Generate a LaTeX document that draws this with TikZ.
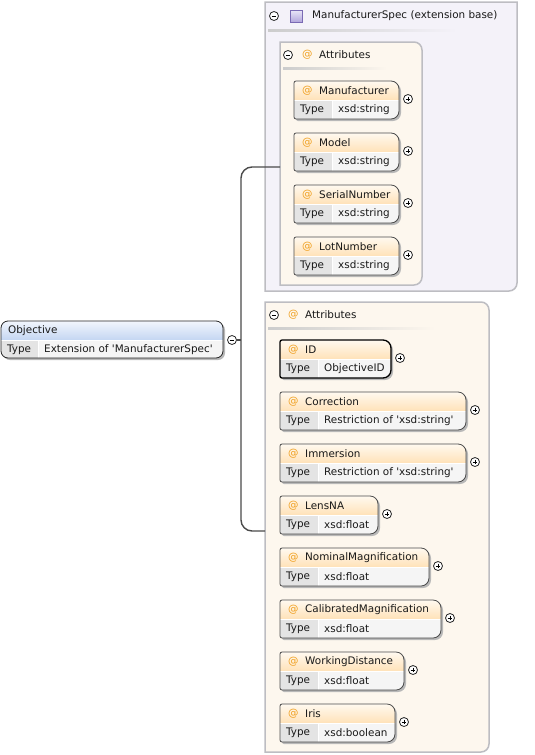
\documentclass[tikz,border=0pt]{standalone}
\usepackage{fontspec}
\setmainfont{DejaVu Sans}[Ligatures=TeXOff]
\usetikzlibrary{calc}
\definecolor{lav}{HTML}{F4F2F9}
\definecolor{cream}{HTML}{FDF7EE}
\definecolor{pborder}{HTML}{BDBDC2}
\definecolor{atcol}{HTML}{F0A020}
\definecolor{hdtop}{HTML}{FFF9F0}
\definecolor{hdbot}{HTML}{FFE2B8}
\definecolor{bltop}{HTML}{F2F6FD}
\definecolor{blbot}{HTML}{C4D6F2}
\definecolor{tcell}{HTML}{E4E4E4}
\definecolor{vcell}{HTML}{F5F5F5}
\definecolor{linec}{HTML}{4A4A4A}
\definecolor{sqtop}{HTML}{EAE6F8}
\definecolor{sqbot}{HTML}{B2A6DC}
\definecolor{sqbd}{HTML}{7A6AB4}
\tikzset{
  lbl/.style={inner sep=0pt, anchor=west, font=\fontsize{10.4}{12}\selectfont, text=black!90},
  circ/.style={circle, draw=black!85, line width=0.8pt, minimum size=9pt, inner sep=0pt, fill=white},
  boxborder/.style={draw=black!70, line width=0.8pt},
  selborder/.style={draw=black, line width=1.3pt},
  shadowc/.style={fill=black!28},
  panelA/.style={fill=lav, draw=pborder, line width=1.5pt},
  panelB/.style={fill=cream, draw=pborder, line width=1.5pt},
  conn/.style={draw=linec, line width=1.4pt},
}
\newcommand\pluscirc[3]{%
  \node[circ] (#1) at (#2,#3) {};
  \draw[line width=0.8pt] (#2-2.3,#3) -- (#2+2.3,#3) (#2,#3-2.3) -- (#2,#3+2.3);}
\newcommand\minuscirc[3]{%
  \node[circ] (#1) at (#2,#3) {};
  \draw[line width=0.8pt] (#2-2.3,#3) -- (#2+2.3,#3);}
% #1 border style, #2 id, #3 x, #4 y, #5 width, #6 label, #7 type
\newcommand\attrbox[7][boxborder]{%
  \pgfmathsetmacro\xa{#3}\pgfmathsetmacro\ya{#4}%
  \pgfmathsetmacro\xb{#3+#5}\pgfmathsetmacro\yb{#4+38}%
  \pgfmathsetmacro\xm{#3+#5/2}\pgfmathsetmacro\ym{#4+19}\pgfmathsetmacro\xt{#3+38}%
  \def\bshape{(\xa,\ym) [rounded corners=2] -- (\xa,\ya) -- (\xm,\ya) [rounded corners=8] -- (\xb,\ya) -- (\xb,\yb) -- (\xm,\yb) [rounded corners=2] -- (\xa,\yb) -- cycle}%
  \begin{scope}[shift={(2,2)}]\fill[shadowc] \bshape;\end{scope}
  \begin{scope}
    \clip \bshape;
    \shade[top color=hdtop, bottom color=hdbot] (\xa,\ya) rectangle (\xb,\ym);
    \fill[tcell] (\xa,\ym) rectangle (\xt,\yb);
    \fill[vcell] (\xt,\ym) rectangle (\xb,\yb);
    \draw[white, line width=0.8pt] (\xa,\ym) -- (\xb,\ym) (\xt,\ym) -- (\xt,\yb);
  \end{scope}
  \draw[#1] \bshape;
  \node[lbl, text=atcol] (#2-at) at (\xa+8,\ya+10) {@};
  \node[lbl] (#2) at (\xa+25,\ya+10) {#6};
  \node[lbl] (#2-tl) at (\xa+6,\ya+28.5) {Type};
  \node[lbl] (#2-tv) at (\xa+44,\ya+28.5) {#7};
  \pluscirc{#2-plus}{\xb+9}{\ya+18}%
}
\begin{document}
\begin{tikzpicture}[x=1pt,y=-1pt]
\useasboundingbox (0,0) rectangle (535,755);
\fill[white] (0,0) rectangle (535,755);

% ---------- upper panel: ManufacturerSpec ----------
\path[panelA] (265,2) -- (517,2) [rounded corners=8] -- (517,291) -- (391,291) [sharp corners] -- (265,291) -- cycle;
\minuscirc{msminus}{274}{16}
\shade[top color=sqtop, bottom color=sqbot, draw=sqbd, line width=0.7pt] (290,10) rectangle (302,22);
\node[lbl] (mspec) at (312,16) {ManufacturerSpec (extension base)};
\shade[left color=black!20, right color=lav] (268,29.5) rectangle (457,31);

\path[panelB] (280,42) [rounded corners=8] -- (422,42) -- (422,285) [sharp corners] -- (280,285) -- cycle;
\minuscirc{attrminusA}{288}{55}
\node[lbl, text=atcol] (attrA-at) at (302,55) {@};
\node[lbl] (attrA) at (319,55) {Attributes};
\shade[left color=black!20, right color=cream] (283,67.5) rectangle (387,69);

\attrbox{manufacturer}{294}{81}{105}{Manufacturer}{xsd:string}
\attrbox{model}{294}{133}{105}{Model}{xsd:string}
\attrbox{serial}{294}{185}{105}{SerialNumber}{xsd:string}
\attrbox{lot}{294}{237}{105}{LotNumber}{xsd:string}

% ---------- lower panel: Attributes ----------
\path[panelB] (265,302) [rounded corners=8] -- (489,302) -- (489,752) [sharp corners] -- (265,752) -- cycle;
\minuscirc{attrminusB}{274}{315}
\node[lbl, text=atcol] (attrB-at) at (288,315) {@};
\node[lbl] (attrB) at (305,315) {Attributes};
\shade[left color=black!20, right color=cream] (268,327.5) rectangle (435,329);

\attrbox[selborder]{id}{280}{340}{111}{ID}{ObjectiveID}
\attrbox{correction}{280}{392}{186}{Correction}{Restriction of 'xsd:string'}
\attrbox{immersion}{280}{444}{186}{Immersion}{Restriction of 'xsd:string'}
\attrbox{lensna}{280}{496}{98}{LensNA}{xsd:float}
\attrbox{nominal}{280}{548}{149}{NominalMagnification}{xsd:float}
\attrbox{calibrated}{280}{600}{161}{CalibratedMagnification}{xsd:float}
\attrbox{working}{280}{652}{124}{WorkingDistance}{xsd:float}
\attrbox{iris}{280}{704}{115}{Iris}{xsd:boolean}

% ---------- Objective ----------
\begin{scope}[shift={(2,2)}]
\fill[shadowc, rounded corners=7] (1,321) rectangle (223,358);
\end{scope}
\begin{scope}
\clip[rounded corners=7] (1,321) rectangle (223,358);
\shade[top color=bltop, bottom color=blbot] (1,321) rectangle (223,340);
\fill[tcell] (1,340) rectangle (38,358);
\fill[vcell] (38,340) rectangle (223,358);
\draw[white, line width=0.8pt] (1,340) -- (223,340) (38,340) -- (38,358);
\end{scope}
\draw[boxborder, draw=black!85, rounded corners=7] (1,321) rectangle (223,358);
\node[lbl] (objective) at (8,330.5) {Objective};
\node[lbl] (obj-tl) at (7,349.5) {Type};
\node[lbl] (obj-tv) at (44,349.5) {Extension of 'ManufacturerSpec'};
\minuscirc{objminus}{232}{340}

% ---------- connector ----------
\coordinate (junc) at (241,340);
\coordinate (topend) at (280,167);
\coordinate (botend) at (265,531);
\draw[conn] (objminus.east) -- (junc);
\draw[conn, rounded corners=11] (topend) -- (241,167) -- (241,531) -- (botend);
\end{tikzpicture}
\end{document}
